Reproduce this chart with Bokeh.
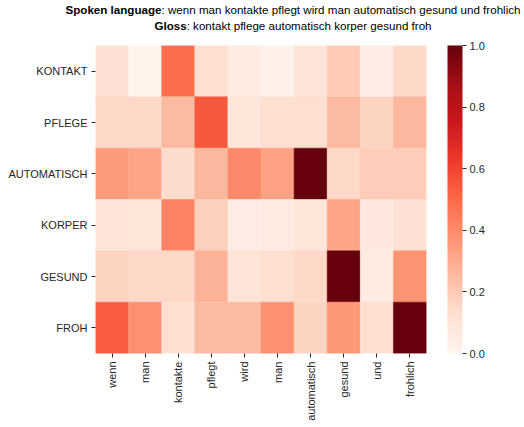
import numpy as np
from bokeh.plotting import figure
from bokeh.layouts import column
from bokeh.models import (ColumnDataSource, LinearColorMapper, ColorBar, FixedTicker,
                          Range1d, PrintfTickFormatter, Div)
from bokeh.transform import transform
from bokeh.embed import file_html
from bokeh.resources import INLINE

# ---- data ----
words = ["wenn", "man", "kontakte", "pflegt", "wird", "man", "automatisch", "gesund", "und", "frohlich"]
glosses = ["KONTAKT", "PFLEGE", "AUTOMATISCH", "KORPER", "GESUND", "FROH"]
kontakt     = [0.12, 0.02, 0.49, 0.13, 0.06, 0.03, 0.10, 0.20, 0.05, 0.15]
pflege      = [0.15, 0.15, 0.25, 0.55, 0.09, 0.13, 0.13, 0.25, 0.17, 0.26]
automatisch = [0.35, 0.32, 0.14, 0.26, 0.40, 0.33, 1.00, 0.15, 0.19, 0.19]
korper      = [0.10, 0.09, 0.42, 0.18, 0.05, 0.07, 0.09, 0.32, 0.08, 0.12]
gesund      = [0.17, 0.15, 0.15, 0.28, 0.10, 0.13, 0.15, 1.00, 0.06, 0.37]
froh        = [0.54, 0.38, 0.13, 0.25, 0.25, 0.38, 0.17, 0.36, 0.13, 1.00]
rows = [kontakt, pflege, automatisch, korper, gesund, froh]
cbar_ticks = [0.0, 0.2, 0.4, 0.6, 0.8, 1.0]
title_bold = ["Spoken language", "Gloss"]
title_rest = [": wenn man kontakte pflegt wird man automatisch gesund und frohlich",
              ": kontakt pflege automatisch korper gesund froh"]

# ---- Reds palette (light -> dark) ----
anchors = ["#fff5f0", "#fee0d2", "#fcbba1", "#fc9272", "#fb6a4a",
           "#ef3b2c", "#cb181d", "#a50f15", "#67000d"]
rgb = np.array([[int(c[i:i + 2], 16) for i in (1, 3, 5)] for c in anchors], dtype=float)
pos = np.linspace(0, 1, len(anchors))
t = np.linspace(0, 1, 256)
palette = ["#%02x%02x%02x" % tuple(int(round(np.interp(v, pos, rgb[:, k]))) for k in range(3)) for v in t]

font = "Liberation Sans"
tick_col = "#262626"
W = 524
TH = 37

# ---- title: two centred lines, bold lead-in ----
lines = "".join(f'<div><b>{b}</b>{r}</div>' for b, r in zip(title_bold, title_rest))
title = Div(text=f'<div style="position:absolute;left:0;top:1.5px;width:586px;text-align:center;'
                 f'white-space:nowrap">{lines}</div>',
            width=W, height=TH, margin=0,
            styles={"position": "relative", "font-family": f"'{font}', Arial, sans-serif",
                    "font-size": "11.6px", "line-height": "16px", "color": "black"})

# ---- heatmap ----
nr, nc = len(glosses), len(words)
xs, ys, vals = [], [], []
for r, row in enumerate(rows):
    for c, v in enumerate(row):
        xs.append(c + 0.5)
        ys.append(nr - r - 0.5)
        vals.append(v)
src = ColumnDataSource(dict(x=xs, y=ys, v=vals))
mapper = LinearColorMapper(palette=palette, low=0.0, high=1.0)

p = figure(width=W, height=427 - TH, x_range=Range1d(0, nc), y_range=Range1d(0, nr),
           output_backend="svg", toolbar_location=None, margin=0,
           min_border_left=95, min_border_right=98, min_border_top=8, min_border_bottom=74)
p.rect(x="x", y="y", width=1, height=1, source=src,
       fill_color=transform("v", mapper), line_color=transform("v", mapper), line_width=0.5)

p.outline_line_color = None
p.grid.grid_line_color = None
for ax in (p.xaxis[0], p.yaxis[0]):
    ax.axis_line_color = None
    ax.minor_tick_line_color = None
    ax.major_tick_in = 0
    ax.major_tick_out = 4
    ax.major_tick_line_color = tick_col
    ax.major_label_text_font = font
    ax.major_label_text_font_size = "11px"
    ax.major_label_text_color = tick_col
    ax.major_label_standoff = 4
    ax.axis_label_standoff = 0

p.xaxis.ticker = FixedTicker(ticks=[c + 0.5 for c in range(nc)])
p.xaxis.major_label_overrides = {c + 0.5: w for c, w in enumerate(words)}
p.xaxis.major_label_orientation = np.pi / 2
p.yaxis.ticker = FixedTicker(ticks=[nr - r - 0.5 for r in range(nr)])
p.yaxis.major_label_overrides = {nr - r - 0.5: g for r, g in enumerate(glosses)}

cb = ColorBar(color_mapper=mapper, ticker=FixedTicker(ticks=cbar_ticks),
              formatter=PrintfTickFormatter(format="%.1f"),
              width=15, padding=0, margin=0, location=(21, 0),
              major_tick_in=0, major_tick_out=4, major_tick_line_color=tick_col,
              label_standoff=3, major_label_text_font=font, major_label_text_font_size="11px",
              major_label_text_color=tick_col,
              bar_line_color=None, border_line_color=None, background_fill_color=None)
p.add_layout(cb, "right")

layout = column(title, p, spacing=0, margin=0)
open("out.html", "w").write(file_html(layout, INLINE))
